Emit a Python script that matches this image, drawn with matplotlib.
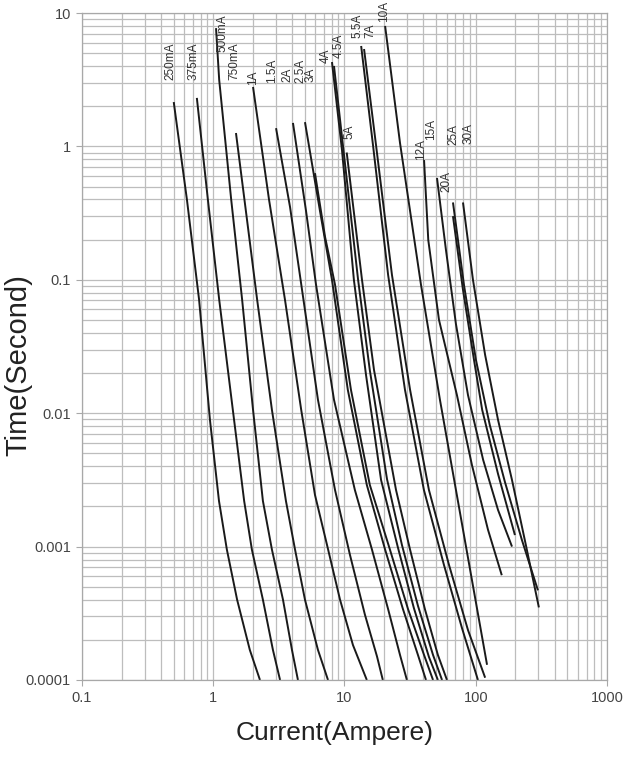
import matplotlib.pyplot as plt
from matplotlib.ticker import LogLocator, FixedLocator, FixedFormatter, NullFormatter

plt.rcParams['font.family'] = ['Liberation Sans', 'DejaVu Sans']

# fuse ratings, one curve each (current in A, pre-arcing time in s)
ratings = ['250mA', '375mA', '500mA', '750mA', '1A', '1.5A', '2A', '2.5A', '3A', '4A',
           '4.5A', '5A', '5.5A', '7A', '10A', '12A', '15A', '20A', '25A', '30A']

amps = [
    [0.50, 0.63, 0.78, 0.944, 1.106, 1.27, 1.52, 1.9, 2.27],
    [0.75, 0.91, 1.11, 1.41, 1.72, 1.97, 2.39, 2.85, 3.23],
    [1.05, 1.11, 1.37, 1.66, 2.01, 2.39, 2.80, 3.40, 3.98, 4.42],
    [1.49, 1.81, 2.16, 2.80, 3.58, 4.20, 5.0, 6.28, 7.49],
    [2.01, 2.66, 3.52, 4.68, 5.96, 7.36, 9.25, 11.6, 14.8],
    [3.01, 3.85, 4.75, 6.28, 8.47, 11.0, 14.3, 17.7, 19.6],
    [4.05, 5.09, 6.07, 8.32, 12.0, 16.2, 21.5, 26.5, 29.9],
    [5.0, 6.5, 8.03, 10.6, 14.8, 20.4, 27.9, 36.3, 41.8],
    [5.96, 7.11, 8.47, 11.2, 15.6, 22.2, 30.5, 40.4, 47.3],
    [8.03, 9.57, 11.8, 14.6, 19.0, 25.6, 33.8, 44.0, 51.5],
    [8.32, 9.91, 12.7, 15.6, 21.1, 27.4, 36.3, 47.3, 55.4],
    [10.4, 13.6, 16.8, 24.7, 31.6, 41.0, 51.5, 60.4],
    [13.4, 16.5, 21.5, 28.9, 40.3, 57.3, 78.6, 104],
    [14.1, 17.4, 23.0, 31.6, 44.0, 62.6, 87.3, 118],
    [20.4, 26.5, 38.3, 53.4, 70.7, 93.6, 122],
    [40.4, 43.5, 52.5, 71.9, 93.6, 124, 158],
    [50.7, 59.3, 70.7, 87.3, 114, 148, 189],
    [67.1, 80.0, 97.1, 112, 148, 199],
    [67.1, 81.4, 100.4, 128, 167, 225, 298],
    [80.0, 95.3, 118, 148, 189, 241, 303],
]

secs = [
    [2.15, 0.40, 0.071, 0.0089, 0.0022, 0.00095, 0.0004, 0.000168, 0.0001],
    [2.31, 0.40, 0.071, 0.0106, 0.0022, 0.00095, 0.0004, 0.000168, 0.0001],
    [7.7, 3.15, 0.40, 0.071, 0.0106, 0.0022, 0.00095, 0.0004, 0.000168, 0.0001],
    [1.26, 0.28, 0.071, 0.0106, 0.0022, 0.00095, 0.0004, 0.000168, 0.0001],
    [2.79, 0.40, 0.071, 0.0106, 0.00244, 0.00103, 0.0004, 0.000183, 0.0001],
    [1.37, 0.35, 0.084, 0.0126, 0.00266, 0.00087, 0.00031, 0.00015, 0.0001],
    [1.50, 0.33, 0.092, 0.0126, 0.00266, 0.00095, 0.00034, 0.000154, 0.0001],
    [1.52, 0.33, 0.10, 0.015, 0.0029, 0.00095, 0.00034, 0.000154, 0.0001],
    [0.63, 0.21, 0.092, 0.015, 0.0029, 0.00095, 0.00034, 0.000154, 0.0001],
    [4.29, 0.94, 0.0997, 0.0193, 0.00316, 0.000976, 0.000346, 0.000149, 0.0001],
    [4.01, 0.87, 0.10, 0.021, 0.0032, 0.00103, 0.00036, 0.000154, 0.0001],
    [0.90, 0.10, 0.021, 0.00266, 0.00095, 0.00034, 0.000154, 0.0001],
    [5.66, 1.02, 0.109, 0.015, 0.00266, 0.000728, 0.000245, 0.0001],
    [5.37, 1.02, 0.109, 0.015, 0.00266, 0.000728, 0.000237, 0.000104],
    [8.0, 1.06, 0.0916, 0.0126, 0.00266, 0.000562, 0.00013],
    [0.79, 0.199, 0.0501, 0.0137, 0.00409, 0.00134, 0.00061],
    [0.58, 0.168, 0.0466, 0.0137, 0.00446, 0.00188, 0.001],
    [0.30, 0.084, 0.025, 0.0106, 0.0035, 0.00122],
    [0.38, 0.0916, 0.0251, 0.00816, 0.00305, 0.00112, 0.00047],
    [0.38, 0.10, 0.0273, 0.0089, 0.00316, 0.00103, 0.00035],
]

x_ticks = [0.1, 1, 10, 100, 1000]
x_ticklabels = ['0.1', '1', '10', '100', '1000']
y_ticks = [0.0001, 0.001, 0.01, 0.1, 1, 10]
y_ticklabels = ['0.0001', '0.001', '0.01', '0.1', '1', '10']

# where each rating label sits relative to the top of its curve (pixels)
label_shift = [(-3, 22), (-3, 18), (6, -24), (-2, 53), (0, 2), (-4, 45), (-6, 41),
               (-5, 39), (-4, 91), (-6, -1), (5, 8), (3, 14), (-4, 8), (6, 11),
               (-1, 4), (-3, 0), (-6, 38), (-7, 24), (0, 57), (6, 58)]

fig = plt.figure(figsize=(6.27, 7.70), dpi=100)
ax = fig.add_axes([0.1308, 0.1169, 0.8372, 0.8662])
ax.set_xscale('log')
ax.set_yscale('log')
ax.set_xlim(0.1, 1000)
ax.set_ylim(0.0001, 10)

ax.xaxis.set_major_locator(FixedLocator(x_ticks))
ax.xaxis.set_major_formatter(FixedFormatter(x_ticklabels))
ax.yaxis.set_major_locator(FixedLocator(y_ticks))
ax.yaxis.set_major_formatter(FixedFormatter(y_ticklabels))
ax.xaxis.set_minor_locator(LogLocator(base=10, subs=range(2, 10), numticks=20))
ax.yaxis.set_minor_locator(LogLocator(base=10, subs=range(2, 10), numticks=20))
ax.xaxis.set_minor_formatter(NullFormatter())
ax.yaxis.set_minor_formatter(NullFormatter())

ax.grid(True, which='both', color='#bdbdbd', lw=0.9)
ax.set_axisbelow(True)
for side in ['top', 'right', 'left', 'bottom']:
    ax.spines[side].set_color('#a8a8a8')
    ax.spines[side].set_linewidth(0.9)
ax.tick_params(which='major', length=4, color='#a8a8a8', labelsize=10.5,
               labelcolor='#444444', pad=4)
ax.tick_params(which='minor', length=0)

for name, I, t, (dx, dy) in zip(ratings, amps, secs, label_shift):
    ax.plot(I, t, color='#1a1a1a', lw=1.4, solid_capstyle='butt', solid_joinstyle='round')
    ax.annotate(name, xy=(I[0], t[0]), xytext=(dx, dy), textcoords='offset pixels',
                rotation=90, ha='center', va='bottom', fontsize=8.5, color='#333333')

ax.set_xlabel('Current(Ampere)', fontsize=19, color='#222222')
ax.set_ylabel('Time(Second)', fontsize=21, color='#222222')
ax.xaxis.set_label_coords(0.482, -0.062)
ax.yaxis.set_label_coords(-0.094, 0.472)

fig.savefig('out.png', dpi=100)
